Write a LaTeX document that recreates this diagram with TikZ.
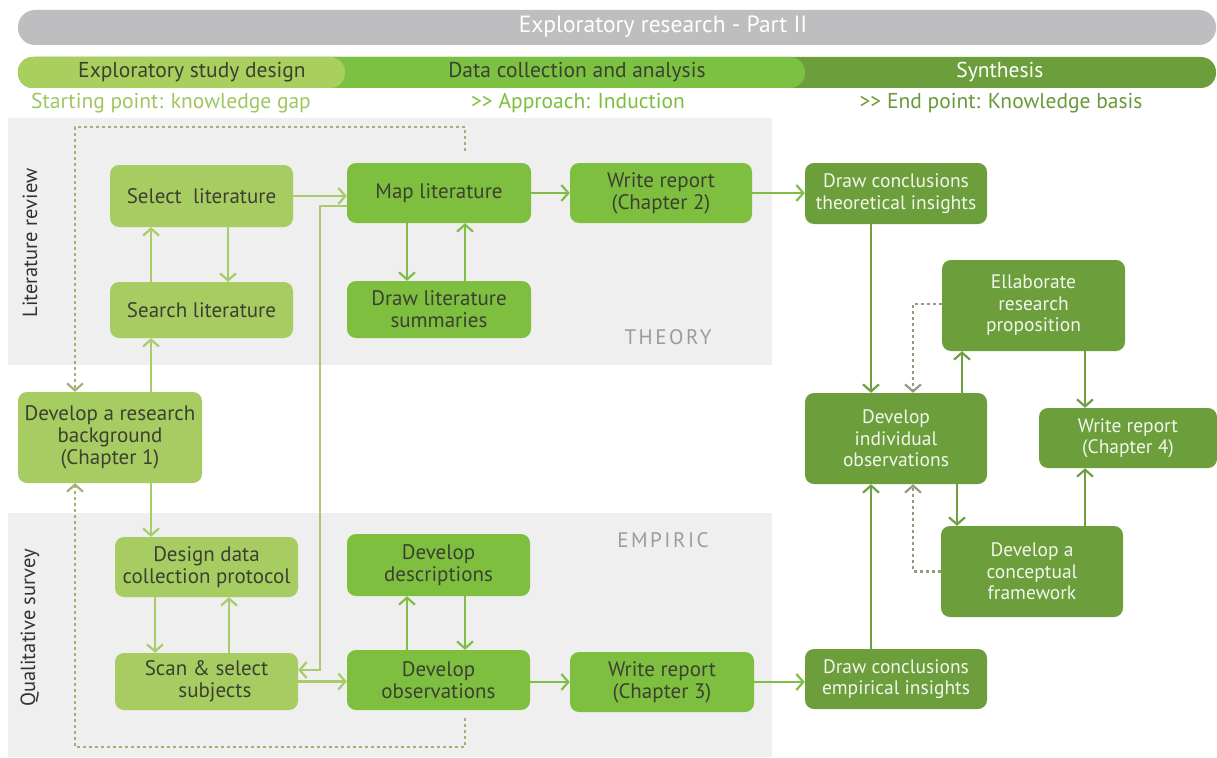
\documentclass[tikz,border=0pt]{standalone}
\usepackage{fontspec}
\setmainfont{PT Sans}
\usetikzlibrary{arrows.meta,calc}

\definecolor{barGray}{HTML}{BEBEC0}
\definecolor{barLight}{HTML}{A9D05E}
\definecolor{barMid}{HTML}{7DC142}
\definecolor{barDark}{HTML}{6D9E3C}
\definecolor{bandGray}{HTML}{EFEFEF}
\definecolor{boxLight}{HTML}{A7CD62}
\definecolor{boxMid}{HTML}{7FBF3F}
\definecolor{boxDark}{HTML}{6C9E3B}
\definecolor{lineLight}{HTML}{A9CC6A}
\definecolor{lineMid}{HTML}{80BD45}
\definecolor{lineDark}{HTML}{6E9F40}
\definecolor{dotLine}{HTML}{A8AE78}
\definecolor{dotLineDark}{HTML}{949C80}
\definecolor{boxText}{HTML}{3B4132}
\definecolor{darkText}{HTML}{F2F6EC}
\definecolor{bandText}{HTML}{9C9C9C}
\definecolor{subLight}{HTML}{A0C660}
\definecolor{subMid}{HTML}{7DBE3C}
\definecolor{subDark}{HTML}{6A9A38}

\tikzset{
  box/.style={rounded corners=9pt, align=center, inner sep=2pt,
    font=\fontsize{21}{22}\selectfont, text=boxText},
  lbox/.style={box, fill=boxLight},
  mbox/.style={box, fill=boxMid},
  dbox/.style={box, fill=boxDark, text=darkText, font=\fontsize{19.5}{21.5}\selectfont},
  tip/.style={-{Straight Barb[length=7pt,width=16pt,line width=2.2pt]}},
  arrL/.style={tip, line width=2.5pt, draw=lineLight},
  arrM/.style={tip, line width=2.5pt, draw=lineMid},
  arrD/.style={tip, line width=2.5pt, draw=lineDark},
  dotted arrow/.style={tip, line width=2.2pt, dash pattern=on 3pt off 3pt},
  bandlabel/.style={font=\fontsize{21}{24}\selectfont\addfontfeatures{LetterSpace=12}, text=bandText},
  sidelabel/.style={rotate=90, font=\fontsize{20.5}{22}\selectfont, text=black!80},
  phase/.style={font=\fontsize{21.5}{24}\selectfont},
}

\begin{document}
\begin{tikzpicture}[x=1pt, y=-1pt]
\useasboundingbox (0,0) rectangle (1217,757);
\fill[white] (0,0) rectangle (1217,757);

% phase header bars
\fill[barGray, rounded corners=17pt] (18,10) rectangle (1216,45);
\node[text=white, font=\fontsize{23.5}{26}\selectfont] (title) at (663,27) {Exploratory research - Part II};
\fill[barDark, rounded corners=15pt] (18,57) rectangle (1216,88);
\fill[barMid, rounded corners=15pt] (18,57) rectangle (805,88);
\fill[barLight, rounded corners=15pt] (18,57) rectangle (345,88);
\node[phase, text=boxText] (ph1) at (192,72) {Exploratory study design};
\node[phase, text=boxText] (ph2) at (577,72) {Data collection and analysis};
\node[phase, text=white] (ph3) at (1000,72) {Synthesis};
\node[phase, text=subLight] (sub1) at (171,103) {Starting point: knowledge gap};
\node[phase, text=subMid] (sub2) at (578,103) {>{}> Approach: Induction};
\node[phase, text=subDark] (sub3) at (1001,103) {>{}> End point: Knowledge basis};

% background bands
\fill[bandGray] (8,118) rectangle (772,365);
\fill[bandGray] (8,513) rectangle (772,757);
\node[bandlabel] (theory) at (668,337) {THEORY};
\node[bandlabel] (empiric) at (663,540) {EMPIRIC};
\node[sidelabel] (litrev) at (30,243) {Literature review};
\node[sidelabel] (qualsurv) at (30,628) {Qualitative survey};

% study design column
\node[lbox, minimum width=183pt, minimum height=62pt] (sel) at (201.5,196) {Select\ \ literature};
\node[lbox, minimum width=183pt, minimum height=56pt] (srch) at (201.5,310) {Search literature};
\node[lbox, minimum width=184pt, minimum height=91pt] (bg) at (110,437.5) {Develop a research\\background\\(Chapter 1)};
\node[lbox, minimum width=183pt, minimum height=60pt] (des) at (206.5,567) {Design data\\collection protocol};
\node[lbox, minimum width=183pt, minimum height=57pt] (scan) at (206.5,681.5) {Scan \& select\\\ \ \ subjects};

% data collection and analysis
\node[mbox, minimum width=184pt, minimum height=60pt] (map) at (439,193) {Map literature};
\node[mbox, minimum width=184pt, minimum height=57pt] (sum) at (439,309.5) {Draw literature\\summaries};
\node[mbox, minimum width=182pt, minimum height=60pt] (wr2) at (661,193) {Write report\\(Chapter 2)};
\node[mbox, minimum width=183pt, minimum height=62pt] (desc) at (438.5,565) {Develop\\descriptions};
\node[mbox, minimum width=183pt, minimum height=60pt] (obs) at (438.5,680) {Develop\\observations};
\node[mbox, minimum width=184pt, minimum height=60pt] (wr3) at (662,682) {Write report\\(Chapter 3)};

% synthesis
\node[dbox, minimum width=182pt, minimum height=61pt] (dct) at (896,193.5) {Draw conclusions\\theoretical insights};
\node[dbox, minimum width=183pt, minimum height=91pt] (ela) at (1033.5,305.5) {Ellaborate\\research\\proposition};
\node[dbox, minimum width=182pt, minimum height=91pt] (ind) at (896,438.5) {Develop\\individual\\observations};
\node[dbox, minimum width=178pt, minimum height=60pt] (wr4) at (1128,438) {Write report\\(Chapter 4)};
\node[dbox, minimum width=182pt, minimum height=91pt] (con) at (1032,571.5) {Develop a\\conceptual\\framework};
\node[dbox, minimum width=182pt, minimum height=60pt] (dce) at (896,679) {Draw conclusions\\empirical insights};

% literature loop
\draw[arrL] (sel.east) -- (sel.east -| map.west);
\draw[arrL] ([xshift=26.5pt]sel.south) -- ([xshift=26.5pt]srch.north);
\draw[arrL] ([xshift=-50.5pt]srch.north) -- ([xshift=-50.5pt]sel.south);
\draw[arrL] ([xshift=41pt]bg.north) -- ([xshift=41pt]bg.north |- srch.south);
\draw[arrL] ([xshift=41pt]bg.south) -- ([xshift=41pt]bg.south |- des.north);
\draw[arrL] ([xshift=-51.5pt]des.south) -- ([xshift=-51.5pt]scan.north);
\draw[arrL] ([xshift=22.5pt]scan.north) -- ([xshift=22.5pt]des.south);
\draw[arrL] (scan.east) -- (scan.east -| obs.west);
\draw[arrL] ([yshift=-13pt]map.west) -- ++(-27,0) |- ([yshift=11.5pt]scan.east);

% analysis loops
\draw[arrM] ([xshift=-32pt]map.south) -- ([xshift=-32pt]sum.north);
\draw[arrM] ([xshift=26pt]sum.north) -- ([xshift=26pt]map.south);
\draw[arrM] (map.east) -- (map.east -| wr2.west);
\draw[arrM] (wr2.east) -- (wr2.east -| dct.west);
\draw[arrM] ([xshift=-31.5pt]obs.north) -- ([xshift=-31.5pt]desc.south);
\draw[arrM] ([xshift=26.5pt]desc.south) -- ([xshift=26.5pt]obs.north);
\draw[arrM] ([yshift=-2pt]obs.east) -- ([yshift=-2pt]obs.east -| wr3.west);
\draw[arrM] (wr3.east) -- (wr3.east -| dce.west);

% synthesis loops
\draw[arrD] ([xshift=-25pt]dct.south) -- ([xshift=-25pt]ind.north);
\draw[arrD] ([xshift=66pt]ind.north) -- ([xshift=66pt]ind.north |- ela.south);
\draw[arrD] ([xshift=51.5pt]ela.south) -- ([xshift=51.5pt]ela.south |- wr4.north);
\draw[arrD] ([xshift=61pt]ind.south) -- ([xshift=61pt]ind.south |- con.north);
\draw[arrD] ([xshift=53pt]con.north) -- ([xshift=53pt]con.north |- wr4.south);
\draw[arrD] ([xshift=-25pt]dce.north) -- ([xshift=-25pt]ind.south);
\draw[dotted arrow, draw=dotLineDark] ([yshift=1.5pt]ela.west) -| ([xshift=17pt]ind.north);
\draw[dotted arrow, draw=dotLineDark] (con.west) -| ([xshift=17pt]ind.south);

% feedback loops to the research background
\draw[dotted arrow, draw=dotLine, shorten <=12pt] ([xshift=26pt]map.north) -- ++(0,-36) -| ([xshift=-35pt]bg.north);
\draw[dotted arrow, draw=dotLine, shorten <=8pt] ([xshift=26.5pt]obs.south) -- ++(0,37) -| ([xshift=-35pt]bg.south);
\end{tikzpicture}
\end{document}
